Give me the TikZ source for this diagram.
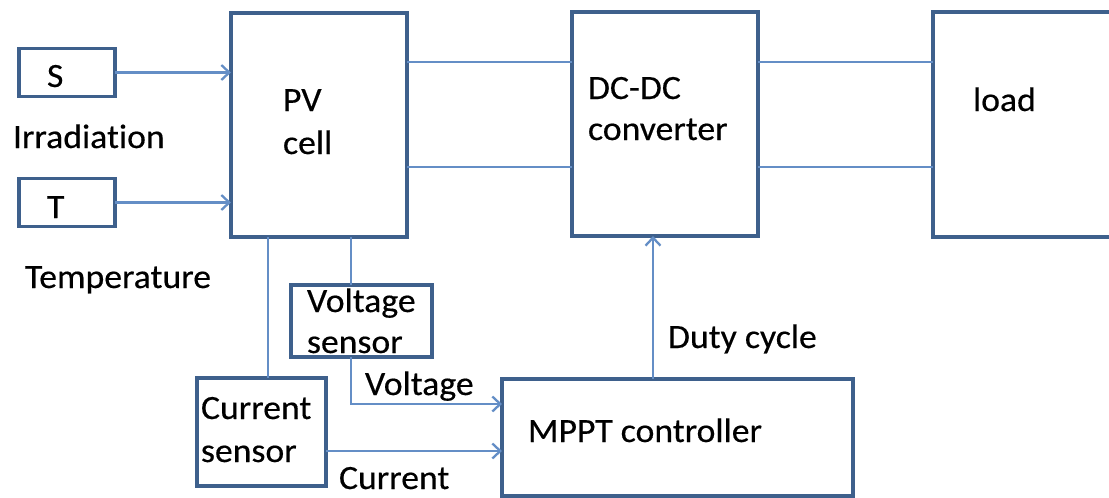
\documentclass[tikz,border=0pt]{standalone}
\usepackage{fontspec}
\setmainfont[FakeStretch=1.05,FakeBold=0.4,Ligatures={NoCommon,NoRare,NoContextual}]{Carlito}
\usetikzlibrary{arrows.meta}
\definecolor{boxc}{RGB}{62,96,140}
\definecolor{linec}{RGB}{100,142,198}
\begin{document}
\begin{tikzpicture}[x=1pt,y=-1pt,
  blk/.style={draw=boxc,line width=3.5pt,rectangle,inner sep=0pt,outer sep=0pt,fill=none},
  lbl/.style={anchor=base west,inner sep=0pt,outer sep=0pt,font=\fontsize{34}{41}\selectfont,text=black},
  wire/.style={draw=linec,line width=2.3pt},
  arr/.style={wire,-{Straight Barb[length=8pt,width=15pt,line width=2.3pt]}}]
\useasboundingbox (0,0) rectangle (1109,498);
% boxes
\node[blk,minimum width=96pt,minimum height=48pt] (S) at (67,72.5) {};
\node[blk,minimum width=96pt,minimum height=48pt] (T) at (67,202.5) {};
\node[blk,minimum width=176pt,minimum height=224pt] (PV) at (319,125) {};
\node[blk,minimum width=186pt,minimum height=224pt] (DC) at (665,124) {};
\node[blk,minimum width=182pt,minimum height=225pt] (load) at (1024,124.5) {};
\node[blk,minimum width=141pt,minimum height=72pt] (VS) at (361.5,321) {};
\node[blk,minimum width=129pt,minimum height=108pt] (CS) at (261.5,432) {};
\node[blk,minimum width=351pt,minimum height=117pt] (MPPT) at (677.5,437.5) {};
% texts
\node[lbl] (tS) at (47,87) {S};
\node[lbl] (tT) at (47,218) {T};
\node[lbl] (tIrr) at (13,148) {Irradiation};
\node[lbl] (tTemp) at (25,288) {Temperature};
\node[lbl] (tPV1) at (283,111) {PV};
\node[lbl] (tPV2) at (283,154) {cell};
\node[lbl] (tDC1) at (588,99) {DC-DC};
\node[lbl] (tDC2) at (588,140) {converter};
\node[lbl] (tload) at (973,111) {load};
\node[lbl] (tVS1) at (307,312) {Voltage};
\node[lbl] (tVS2) at (307,353) {sensor};
\node[lbl] (tCS1) at (201,419) {Current};
\node[lbl] (tCS2) at (201,462) {sensor};
\node[lbl] (tV) at (365,395) {Voltage};
\node[lbl] (tC) at (339,489) {Current};
\node[lbl] (tDuty) at (668,348) {Duty cycle};
\node[lbl] (tMPPT) at (528,442) {MPPT controller};
% helper coordinates
\coordinate (y1) at (0,62);
\coordinate (y2) at (0,167);
\coordinate (cx) at (268,0);
\coordinate (vx) at (351,0);
\coordinate (vy) at (0,404);
\coordinate (cy) at (0,451);
\coordinate (dx) at (653,0);
% connectors
\draw[arr] (S.east) -- (S.east -| PV.west);
\draw[arr] (T.east) -- (T.east -| PV.west);
\draw[wire] (PV.east |- y1) -- (DC.west |- y1);
\draw[wire] (PV.east |- y2) -- (DC.west |- y2);
\draw[wire] (DC.east |- y1) -- (load.west |- y1);
\draw[wire] (DC.east |- y2) -- (load.west |- y2);
\draw[wire] (PV.south -| cx) -- (CS.north -| cx);
\draw[wire] (PV.south -| vx) -- (VS.north -| vx);
\draw[arr] (VS.south -| vx) |- (MPPT.west |- vy);
\draw[arr] (CS.east |- cy) -- (MPPT.west |- cy);
\draw[arr] (MPPT.north -| dx) -- (DC.south -| dx);
\end{tikzpicture}
\end{document}
